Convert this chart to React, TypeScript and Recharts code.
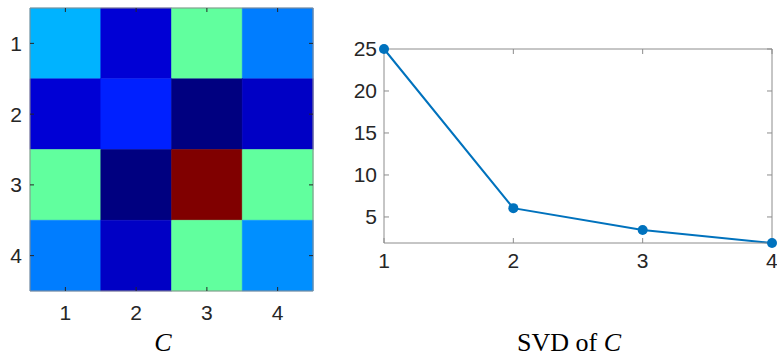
import React from 'react'
import { ComposedChart, Bar, Cell, XAxis, YAxis, LineChart, Line } from 'recharts'

// matrix C (normalised, as shown with the jet colormap)
const rowLabels = ['1', '2', '3', '4']
const colLabels = ['1', '2', '3', '4']
const cMatrix = [
    [0.3, 0.084, 0.47, 0.248],
    [0.084, 0.156, 0.0, 0.068],
    [0.47, 0.0, 1.0, 0.47],
    [0.248, 0.068, 0.47, 0.265],
]

// singular values of C
const svdIndex = [1, 2, 3, 4]
const svdValues = [25, 6.05, 3.45, 1.9]
const svdTicks = [5, 10, 15, 20, 25]

const axisGrey = '#8c8c8c'
const textColor = '#262626'
const tickFont = { fontFamily: '"Liberation Sans", Arial, sans-serif', fontSize: 21, fill: textColor }
const serif = '"Liberation Serif", "Times New Roman", serif'
const noLabel = () => ''

function jet(t: number) {
    const c = (v: number) => Math.round(255 * Math.max(0, Math.min(1, v)))
    const r = c(1.5 - Math.abs(4 * t - 3))
    const g = c(1.5 - Math.abs(4 * t - 2))
    const b = c(1.5 - Math.abs(4 * t - 1))
    return `rgb(${r},${g},${b})`
}

const heatData = colLabels.map((col) => {
    const row: Record<string, string | number> = { col }
    rowLabels.forEach((_, i) => {
        row[`r${i}`] = 1
    })
    return row
})

const svdData = svdIndex.map((k, i) => ({ k, s: svdValues[i] }))
const yMin = Math.min(...svdValues)
const yMax = Math.max(...svdValues)
const rowTicks = rowLabels.map((_, i) => i + 0.5)

export default function App() {
    return (
        <div style={{ position: 'absolute', left: 0, top: 0, width: 777, height: 357, background: '#fff' }}>
            <div style={{ position: 'absolute', left: 0, top: 0 }}>
                <ComposedChart
                    width={330}
                    height={357}
                    data={heatData}
                    barCategoryGap={0}
                    margin={{ top: 7, right: 16, bottom: 36, left: 0 }}
                >
                    {rowLabels.map((_, i) => (
                        <Bar key={i} dataKey={`r${i}`} stackId="c" isAnimationActive={false}>
                            {colLabels.map((_, j) => (
                                <Cell key={j} fill={jet(cMatrix[i][j])} stroke={jet(cMatrix[i][j])} strokeWidth={0.5} />
                            ))}
                        </Bar>
                    ))}
                    {/* invisible series so the top and right frame axes get a scale */}
                    <Line
                        xAxisId="top"
                        yAxisId="right"
                        dataKey="r0"
                        stroke="none"
                        dot={false}
                        activeDot={false}
                        isAnimationActive={false}
                    />
                    <XAxis
                        dataKey="col"
                        height={30}
                        tickSize={-4}
                        tickMargin={18}
                        tick={tickFont}
                        axisLine={{ stroke: axisGrey }}
                        tickLine={{ stroke: textColor }}
                    />
                    <XAxis
                        xAxisId="top"
                        dataKey="col"
                        orientation="top"
                        height={1}
                        tickSize={-4}
                        tick={tickFont}
                        tickFormatter={noLabel}
                        axisLine={{ stroke: axisGrey }}
                        tickLine={{ stroke: textColor }}
                    />
                    <YAxis
                        type="number"
                        domain={[0, rowLabels.length]}
                        reversed
                        width={30}
                        ticks={rowTicks}
                        tickFormatter={(v: number) => rowLabels[Math.floor(v)]}
                        tickSize={-4}
                        tickMargin={12}
                        tick={tickFont}
                        axisLine={{ stroke: axisGrey }}
                        tickLine={{ stroke: textColor }}
                    />
                    <YAxis
                        yAxisId="right"
                        orientation="right"
                        type="number"
                        domain={[0, rowLabels.length]}
                        reversed
                        width={1}
                        ticks={rowTicks}
                        tickSize={-4}
                        tick={tickFont}
                        tickFormatter={noLabel}
                        axisLine={{ stroke: axisGrey }}
                        tickLine={{ stroke: textColor }}
                    />
                </ComposedChart>
            </div>

            <div style={{ position: 'absolute', left: 340, top: 0 }}>
                <LineChart width={437} height={357} data={svdData} margin={{ top: 48, right: 4, bottom: 84, left: 0 }}>
                    <XAxis
                        dataKey="k"
                        type="number"
                        domain={[svdIndex[0], svdIndex[svdIndex.length - 1]]}
                        ticks={svdIndex}
                        height={30}
                        tickSize={-5}
                        tickMargin={15}
                        tick={tickFont}
                        axisLine={{ stroke: axisGrey }}
                        tickLine={{ stroke: axisGrey }}
                    />
                    <XAxis
                        xAxisId="top"
                        dataKey="k"
                        type="number"
                        orientation="top"
                        domain={[svdIndex[0], svdIndex[svdIndex.length - 1]]}
                        ticks={svdIndex}
                        height={1}
                        tickSize={-5}
                        tick={tickFont}
                        tickFormatter={noLabel}
                        axisLine={{ stroke: axisGrey }}
                        tickLine={{ stroke: axisGrey }}
                    />
                    <YAxis
                        type="number"
                        domain={[yMin, yMax]}
                        ticks={svdTicks}
                        width={44}
                        tickSize={-5}
                        tickMargin={12}
                        tick={tickFont}
                        axisLine={{ stroke: axisGrey }}
                        tickLine={{ stroke: axisGrey }}
                    />
                    <YAxis
                        yAxisId="right"
                        orientation="right"
                        type="number"
                        domain={[yMin, yMax]}
                        ticks={svdTicks}
                        width={1}
                        tickSize={-5}
                        tick={tickFont}
                        tickFormatter={noLabel}
                        axisLine={{ stroke: axisGrey }}
                        tickLine={{ stroke: axisGrey }}
                    />
                    {/* invisible copy so the top and right frame axes get a scale */}
                    <Line
                        xAxisId="top"
                        yAxisId="right"
                        dataKey="s"
                        stroke="none"
                        dot={false}
                        activeDot={false}
                        isAnimationActive={false}
                    />
                    <Line
                        dataKey="s"
                        stroke="#0072BD"
                        strokeWidth={2}
                        dot={{ r: 5, fill: '#0072BD', stroke: '#0072BD', strokeWidth: 0 }}
                        isAnimationActive={false}
                    />
                </LineChart>
            </div>

            <svg width={777} height={357} style={{ position: 'absolute', left: 0, top: 0, pointerEvents: 'none' }}>
                <text x={163} y={351} textAnchor="middle" fontFamily={serif} fontSize={26} fontStyle="italic" fill="#000">
                    C
                </text>
                <text x={569} y={351} textAnchor="middle" fontFamily={serif} fontSize={26} fill="#000">
                    SVD of <tspan fontStyle="italic">C</tspan>
                </text>
            </svg>
        </div>
    )
}
